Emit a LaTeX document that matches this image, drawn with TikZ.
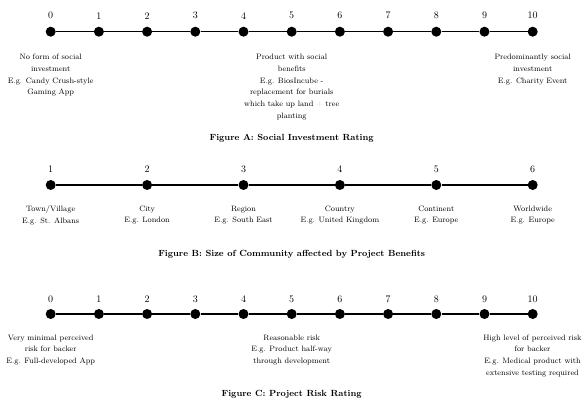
\documentclass[tikz,border=0pt]{standalone}
\begin{document}
\begin{tikzpicture}[x=1pt,y=-1pt,
  dot/.style={circle,fill=black,minimum size=10pt,inner sep=0pt},
  num/.style={font=\fontsize{10}{12}\selectfont,inner sep=0pt},
  lbl/.style={font=\fontsize{7.8}{11.7}\selectfont,align=center,anchor=north,inner sep=0pt},
  figcaption/.style={font=\fontsize{8.9}{11}\selectfont\bfseries,anchor=base,inner sep=0pt},
  axis/.style={line width=1.6pt}]
\useasboundingbox[fill=white] (0,0) rectangle (582,403);

% ---------- Figure A ----------
\foreach \i in {0,...,10}{
  \node[dot] (a\i) at ({50.7+48.2*\i},31.7) {};
  \node[num] (an\i) at ({50.7+48.2*\i},15.7) {\i};
}
\foreach \i [count=\j from 1] in {0,...,9}{
  \draw[axis] (a\i) -- (a\j);
}
\node[lbl] (al0) at (50.7,54) {No form of social\\investment\\E.g. Candy Crush-style\\Gaming App};
\node[lbl] (al5) at (291.7,54) {Product with social\\benefits\\E.g. BiosIncube -\\replacement for burials\\which take up land {\color{orange!45}+} tree\\planting};
\node[lbl] (al10) at (532.7,54) {Predominantly social\\investment\\E.g. Charity Event};
\node[figcaption] (capA) at (291.7,141) {Figure A: Social Investment Rating};

% ---------- Figure B ----------
\foreach \i in {1,...,6}{
  \node[dot] (b\i) at ({50.7+96.4*(\i-1)},185) {};
  \node[num] (bn\i) at ({50.7+96.4*(\i-1)},169) {\i};
}
\foreach \i [count=\j from 2] in {1,...,5}{
  \draw[axis] (b\i) -- (b\j);
}
\node[lbl] (bl1) at (50.7,205.5) {Town/Village\\E.g. St. Albans};
\node[lbl] (bl2) at (147.1,205.5) {City\\E.g. London};
\node[lbl] (bl3) at (243.5,205.5) {Region\\E.g. South East};
\node[lbl] (bl4) at (339.9,205.5) {Country\\E.g. United Kingdom};
\node[lbl] (bl5) at (436.3,205.5) {Continent\\E.g. Europe};
\node[lbl] (bl6) at (532.7,205.5) {Worldwide\\E.g. Europe};
\node[figcaption] (capB) at (291.7,257) {Figure B: Size of Community affected by Project Benefits};

% ---------- Figure C ----------
\foreach \i in {0,...,10}{
  \node[dot] (c\i) at ({50.7+48.2*\i},314) {};
  \node[num] (cn\i) at ({50.7+48.2*\i},299) {\i};
}
\foreach \i [count=\j from 1] in {0,...,9}{
  \draw[axis] (c\i) -- (c\j);
}
\node[lbl] (cl0) at (50.7,334.5) {Very minimal perceived\\risk for backer\\E.g. Full-developed App};
\node[lbl] (cl5) at (291.7,334.5) {Reasonable risk\\E.g. Product half-way\\through development};
\node[lbl] (cl10) at (532.5,334.5) {High level of perceived risk\\for backer\\E.g. Medical product with\\extensive testing required};
\node[figcaption] (capC) at (291.7,397) {Figure C: Project Risk Rating};
\end{tikzpicture}
\end{document}
